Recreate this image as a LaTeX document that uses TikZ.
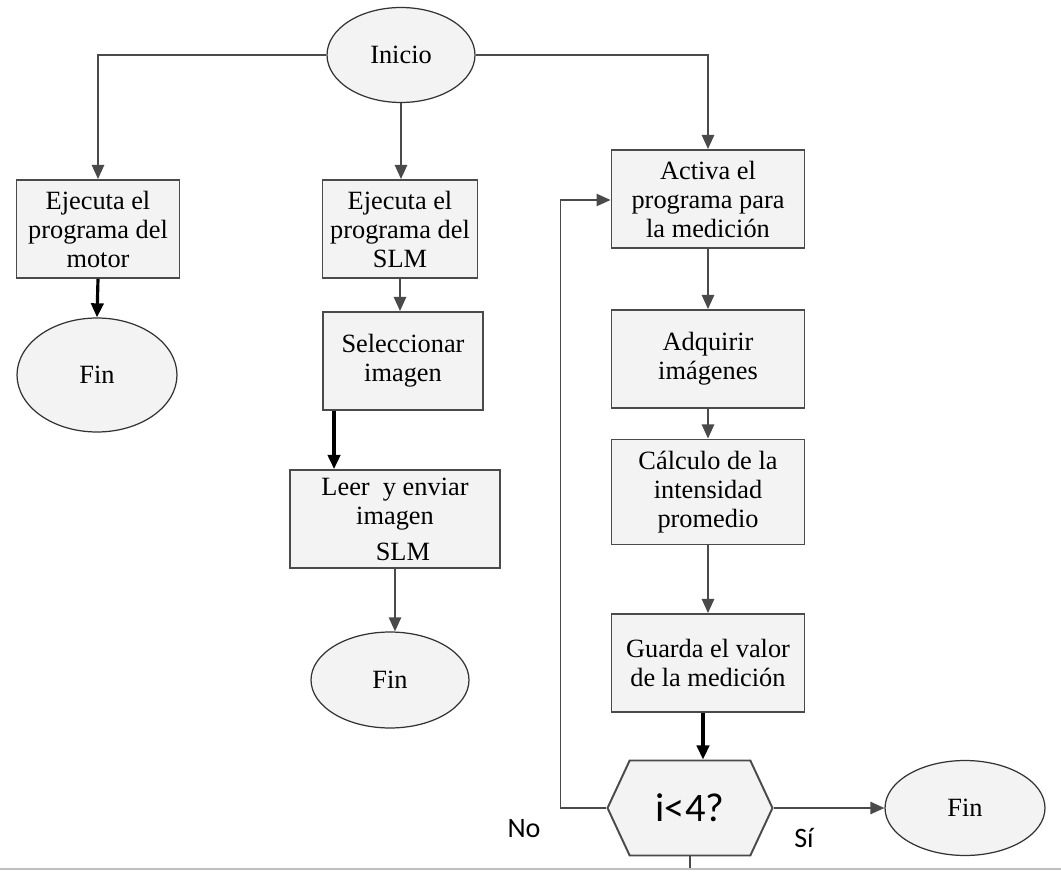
\documentclass[tikz,border=0pt]{standalone}
\usepackage{fontspec}
\setmainfont{Liberation Serif}
\newfontfamily\calib{Carlito}
\usetikzlibrary{arrows.meta,shapes.geometric,shapes.symbols,calc}
\definecolor{boxgray}{HTML}{F3F3F3}
\definecolor{linegray}{HTML}{4A4A4A}

\begin{document}
\begin{tikzpicture}[x=0.02cm, y=-0.02cm,
  every node/.style={font=\fontsize{15}{16.5}\selectfont},
  proc/.style={draw=linegray, line width=1.1pt, fill=boxgray, align=center,
    minimum width=3.86cm, minimum height=1.96cm, inner sep=2pt},
  term/.style={ellipse, draw=black!80, line width=0.7pt, fill=boxgray,
    minimum width=3.2cm, minimum height=1.92cm},
  flow/.style={draw=linegray, line width=1pt, -{Triangle[length=8pt,width=7pt]}},
  boldflow/.style={draw=black, line width=1.8pt, -{Triangle[length=8pt,width=7pt]}}]

\useasboundingbox (0,0) rectangle (1061,874);

% =================== start ===================
\node[term, minimum width=2.96cm, minimum height=1.9cm] (inicio) at (401,55) {Inicio};

% =================== left column: motor ===================
\node[proc, minimum width=3.26cm] (motor) at (98,229) {Ejecuta el\\programa del\\motor};
\node[term, minimum height=2.28cm] (finA) at (97,375) {Fin};

% =================== middle column: SLM ===================
\node[proc, minimum width=3.1cm] (slm) at (400,229) {Ejecuta el\\programa del\\SLM};
\node[proc, minimum width=3.2cm] (selec) at (403,361) {Seleccionar\\imagen};
\node[proc, minimum width=4.2cm] (leer) at (395,519)
  {Leer\ \ y enviar\\imagen\hspace{1.6em}\\[4pt]\hspace{0.6em}SLM};
\node[term, minimum width=3.16cm] (finB) at (390,680) {Fin};

% =================== right column: measurement ===================
\node[proc] (activa) at (708,199) {Activa el\\programa para\\la medición};
\node[proc] (adquirir) at (708,359) {Adquirir\\imágenes};
\node[proc, minimum height=2.1cm] (calculo) at (708,492) {Cálculo de la\\intensidad\\promedio};
\node[proc] (guarda) at (708,663) {Guarda el valor\\de la medición};

% decision hexagon (pointed left and right)
\node[signal, signal to=west and east, signal pointer angle=130,
  draw=linegray, line width=1.1pt, fill=boxgray,
  minimum width=3.3cm, minimum height=1.9cm, inner sep=0pt,
  font=\calib\fontsize{23}{25}\selectfont] (cond) at (690,808) {i<4?};
\node[term, minimum height=1.9cm] (finC) at (965,808) {Fin};

\node[font=\calib\fontsize{16}{18}\selectfont] (no) at (524,829) {No};
\node[font=\calib\fontsize{16}{18}\selectfont] (si) at (804,838) {Sí};

% =================== connectors ===================
\draw[flow] (inicio.west) -| (motor.north);
\draw[flow] (inicio.south) -- (inicio.south |- slm.north);
\draw[flow] (inicio.east) -| (activa.north);

\draw[boldflow] (motor.south) -- (finA.north);

\draw[flow] (slm.south) -- (slm.south |- selec.north);
\draw[boldflow] ([xshift=0.24cm]selec.south west) -- ([xshift=0.24cm]selec.south west |- leer.north);
\draw[flow] (leer.south) -- (leer.south |- finB.north);

\draw[flow] (activa) -- (adquirir);
\draw[flow] (adquirir) -- (calculo);
\draw[flow] (calculo) -- (guarda);
\draw[boldflow] ([xshift=-0.1cm]guarda.south) -- ([xshift=-0.1cm]guarda.south |- cond.north);

% loop back (No) and exit (Sí)
\coordinate (loop) at ($(cond.west)+(-46,0)$);
\draw[flow] (cond.west) -- (loop) |- ([yshift=-0.02cm]activa.west);
\draw[flow] (cond.east) -- (finC.west);
\coordinate (stub) at (690,870);
\draw[draw=linegray, line width=1pt] (cond.south) -- (stub);

% bottom border line
\draw[black!25, line width=1.2pt] (0,869) -- (1061,869);

\end{tikzpicture}
\end{document}
